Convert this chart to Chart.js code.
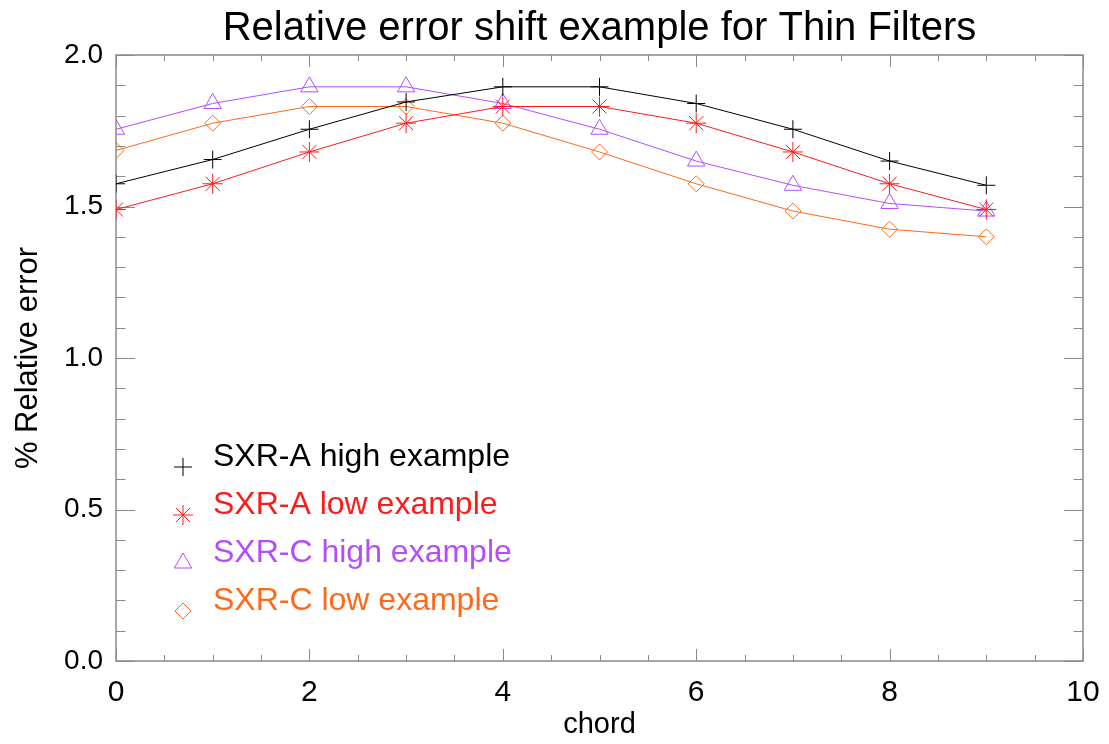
<!DOCTYPE html>
<html>
<head>
<meta charset="utf-8">
<title>Relative error shift example for Thin Filters</title>
<script src="https://cdn.jsdelivr.net/npm/chart.js@4/dist/chart.umd.min.js"></script>
<style>
  body { margin: 0; background: #fff; }
  #wrap { width: 1109px; height: 744px; }
</style>
</head>
<body>
<div id="wrap"><canvas id="errChart" width="1109" height="744"></canvas></div>
<script>
// values
const chords = [0, 1, 2, 3, 4, 5, 6, 7, 8, 9];
const sxrAHigh = [1.575, 1.655, 1.755, 1.845, 1.895, 1.895, 1.84, 1.755, 1.65, 1.57];
const sxrALow = [1.49, 1.575, 1.68, 1.775, 1.83, 1.83, 1.775, 1.68, 1.575, 1.49];
const sxrCHigh = [1.755, 1.84, 1.895, 1.895, 1.84, 1.755, 1.65, 1.57, 1.51, 1.485];
const sxrCLow = [1.685, 1.775, 1.83, 1.83, 1.775, 1.68, 1.575, 1.485, 1.425, 1.4];

const seriesNames = ["SXR-A high example", "SXR-A low example", "SXR-C high example", "SXR-C low example"];
const seriesColors = ["#000000", "#ff1a1a", "#b44dff", "#ff6a1a"];
const seriesSymbols = ["cross", "star", "triangle", "rectRot"];
const seriesSizes = [9, 10, 10, 8];

const xTicks = [0, 2, 4, 6, 8, 10];
const yTicks = [0.0, 0.5, 1.0, 1.5, 2.0];

const FONT = "'Liberation Sans', Arial, Helvetica, sans-serif";
Chart.defaults.font.family = FONT;
Chart.defaults.color = "#000";

const toPoints = (vals) => chords.map((c, i) => ({ x: c, y: vals[i] }));

const datasets = [sxrAHigh, sxrALow, sxrCHigh, sxrCLow].map((vals, i) => ({
  label: seriesNames[i],
  data: toPoints(vals),
  borderColor: seriesColors[i],
  backgroundColor: "rgba(0,0,0,0)",
  borderWidth: 1,
  pointStyle: seriesSymbols[i],
  pointRadius: seriesSizes[i],
  pointBorderWidth: 1,
  pointBorderColor: seriesColors[i],
  pointBackgroundColor: "rgba(0,0,0,0)",
  tension: 0,
}));

// IDL style box with inward ticks on all four sides
const framePlugin = {
  id: "frame",
  beforeDatasetsDraw(chart) {
    const { ctx, chartArea: a, scales: { x, y } } = chart;
    ctx.save();
    ctx.strokeStyle = "#8a8a8a";
    ctx.lineWidth = 1.5;
    ctx.strokeRect(a.left, a.top, a.right - a.left, a.bottom - a.top);
    ctx.lineWidth = 1;
    ctx.beginPath();
    for (let i = 0; i <= 20; i++) {
      const v = i * 0.5;
      const px = Math.round(x.getPixelForValue(v)) + 0.5;
      const len = i % 4 === 0 ? 12 : 6;
      ctx.moveTo(px, a.bottom);
      ctx.lineTo(px, a.bottom - len);
      ctx.moveTo(px, a.top);
      ctx.lineTo(px, a.top + len);
    }
    for (let i = 0; i <= 20; i++) {
      const v = i / 10;
      const py = Math.round(y.getPixelForValue(v)) + 0.5;
      const len = i % 5 === 0 ? 19 : 9.5;
      ctx.moveTo(a.left, py);
      ctx.lineTo(a.left + len, py);
      ctx.moveTo(a.right, py);
      ctx.lineTo(a.right - len, py);
    }
    ctx.stroke();
    ctx.restore();
  },
};

const legendPlugin = {
  id: "idlLegend",
  afterDraw(chart) {
    const { ctx, chartArea: a } = chart;
    ctx.save();
    ctx.font = "32px " + FONT;
    ctx.textBaseline = "middle";
    ctx.textAlign = "left";
    chart.data.datasets.forEach((ds, i) => {
      const ty = a.top + 402 + i * 48;
      ctx.fillStyle = ds.borderColor;
      ctx.fillText(ds.label, a.left + 97, ty);
      ctx.strokeStyle = ds.borderColor;
      ctx.fillStyle = "rgba(0,0,0,0)";
      ctx.lineWidth = 1;
      Chart.helpers.drawPoint(ctx, {
        pointStyle: ds.pointStyle,
        radius: ds.pointRadius,
        rotation: 0,
        borderWidth: 1,
      }, a.left + 67, ty + 10);
    });
    ctx.restore();
  },
};

new Chart(document.getElementById("errChart"), {
  type: "line",
  data: { datasets },
  options: {
    responsive: false,
    animation: false,
    layout: { padding: { left: 0, right: 26, top: 0, bottom: 0 } },
    plugins: {
      legend: { display: false },
      tooltip: { enabled: false },
      title: {
        display: true,
        fullSize: false,
        text: "Relative error shift example for Thin Filters",
        color: "#000",
        font: { size: 40, weight: "normal" },
        padding: { top: 5, bottom: 2 },
      },
    },
    scales: {
      x: {
        type: "linear",
        min: 0,
        max: 10,
        afterFit: (s) => { s.height = 83; },
        afterBuildTicks: (s) => { s.ticks = xTicks.map((v) => ({ value: v })); },
        grid: { display: false },
        border: { display: false },
        ticks: { font: { size: 30 }, color: "#000", padding: 6, callback: (v) => String(v) },
        title: { display: true, text: "chord", font: { size: 29 }, color: "#000", padding: { top: 0, bottom: 2 } },
      },
      y: {
        type: "linear",
        min: 0,
        max: 2,
        afterFit: (s) => { s.width = 116; },
        afterBuildTicks: (s) => { s.ticks = yTicks.map((v) => ({ value: v })); },
        grid: { display: false },
        border: { display: false },
        ticks: { font: { size: 28 }, color: "#000", padding: 5, callback: (v) => v.toFixed(1) },
        title: { display: true, text: "% Relative error", font: { size: 31 }, color: "#000", padding: { top: 10, bottom: 0 } },
      },
    },
  },
  plugins: [framePlugin, legendPlugin],
});
</script>
</body>
</html>
